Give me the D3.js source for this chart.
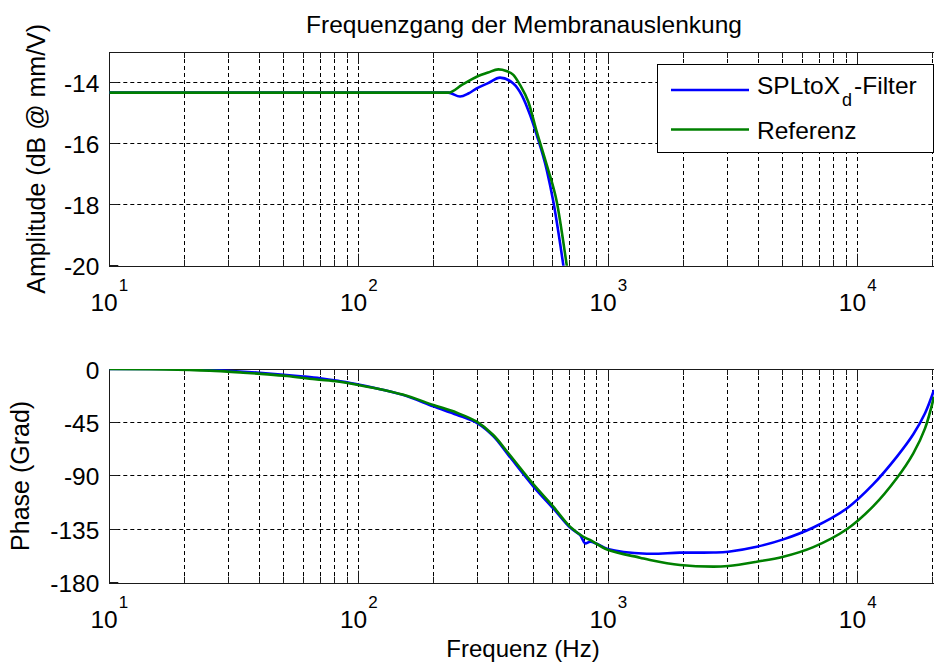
<!DOCTYPE html>
<html>
<head>
<meta charset="utf-8">
<script src="https://cdn.jsdelivr.net/npm/d3@7"></script>
<style>
  html, body { margin: 0; padding: 0; background: #ffffff; }
  svg { display: block; font-family: "Liberation Sans", Arial, Helvetica, sans-serif; }
</style>
</head>
<body>
<svg id="chart" width="934" height="663"></svg>
<script>
// ---- Amplitude response (dB @ mm/V) ----
const ampFreqFilter = [10, 228.5, 254.6, 275, 296.9, 330, 368.3, 416.4, 450, 485.8, 516.8, 566.7, 602.3, 660.5, 720];
const ampFilter     = [-14.33, -14.33, -14.46, -14.36, -14.19, -14.02, -13.84, -14.03, -14.41, -15.06, -15.72, -16.86, -17.90, -19.98, -22.2];

const ampFreqRef = [10, 228.5, 260, 296.9, 330, 362.5, 390, 416.4, 442.9, 478.2, 516.8, 566.7, 621.5, 681.6, 740];
const ampRef     = [-14.33, -14.33, -14.07, -13.81, -13.67, -13.57, -13.62, -13.75, -14.08, -14.63, -15.61, -16.70, -17.90, -19.98, -22.0];

// ---- Phase response (degrees) ----
const phaseFreqFilter = [10, 17, 23.8, 30, 40, 50, 60, 70, 82.6, 99.6, 150, 199, 247, 297, 346, 398, 500.6, 602.3, 702.5, 770.5, 807, 845.2, 898.8, 994.9, 1426, 1939, 2637, 3029, 3937, 5031, 6637, 9036, 11547, 14334, 16702, 18610, 20220];
const phaseFilter     = [0, 0, -0.5, -1.5, -3.2, -4.8, -6.3, -7.8, -10.0, -13.0, -21.8, -31.5, -38.5, -45.3, -56.5, -72.5, -98.8, -117.5, -133.5, -139.8, -146.8, -145.5, -147.2, -151.6, -155.6, -154.7, -154.6, -153.9, -149.7, -143.5, -133.5, -117.5, -97.0, -74.0, -55.0, -37.3, -17.7];

const phaseFreqRef = [10, 16.7, 25.3, 34.4, 43.2, 51.6, 66.7, 82.6, 99.6, 150, 199, 247, 297, 346, 398, 500.6, 602.3, 702.5, 794.3, 845.2, 994.9, 1341, 1471, 1939, 2637, 3029, 3937, 5031, 6637, 9036, 11547, 14334, 16702, 18610, 20220];
const phaseRef     = [0, -0.3, -1.4, -3.1, -4.5, -5.9, -8.7, -10.6, -13.4, -21.5, -30.3, -36.8, -44.4, -55.6, -71.0, -97.0, -116, -132.8, -141.3, -144, -152.3, -158.9, -160.9, -165.1, -166.5, -165.9, -162.3, -158.1, -150, -135, -115.5, -92, -71, -50, -23.3];

// ---- Axes ----
const freqDomain   = [10, 22050];
const decades      = [10, 100, 1000, 10000];
const decadeExp    = ["1", "2", "3", "4"];
const ampDomain    = [-20, -13];
const ampTicks     = [-20, -18, -16, -14];
const phaseDomain  = [-180, 0];
const phaseTicks   = [0, -45, -90, -135, -180];

// ---- Text ----
const titleText   = "Frequenzgang der Membranauslenkung";
const ampLabel    = "Amplitude (dB @ mm/V)";
const phaseLabel  = "Phase (Grad)";
const xLabel      = "Frequenz (Hz)";
const seriesNames = ["SPLtoX", "d", "-Filter", "Referenz"];
const seriesColors = ["#0000ff", "#008000"];

const svg = d3.select("#chart");
const left = 109.3, right = 943.4;
const x = d3.scaleLog().domain(freqDomain).range([left, right]);
const crisp = v => Math.round(v - 0.5) + 0.5;

// tick / grid frequencies: 1..9 x each decade
const xTickList = [];
decades.forEach(d => {
  for (let k = 1; k <= 9; k++) {
    const f = k * d;
    if (f > freqDomain[0] && f < freqDomain[1]) xTickList.push({ f, major: k === 1 });
  }
});

const FONT = 24.5;

function drawPanel(cfg) {
  const y = d3.scaleLinear().domain(cfg.yDomain).range([cfg.bottom, cfg.top]);
  const g = svg.append("g");

  svg.append("defs").append("clipPath").attr("id", cfg.id + "-clip")
    .append("rect")
    .attr("x", left).attr("y", cfg.top)
    .attr("width", right - left).attr("height", cfg.bottom - cfg.top);

  // dashed grid
  const grid = g.append("g").attr("stroke", "#000").attr("stroke-width", 1)
    .attr("stroke-dasharray", "4,3");
  grid.selectAll("line.v").data(xTickList).join("line").attr("class", "v")
    .attr("x1", d => crisp(x(d.f))).attr("x2", d => crisp(x(d.f)))
    .attr("y1", cfg.top).attr("y2", cfg.bottom);
  grid.selectAll("line.h")
    .data(cfg.yTicks.filter(t => t !== cfg.yDomain[0] && t !== cfg.yDomain[1]))
    .join("line").attr("class", "h")
    .attr("x1", left).attr("x2", right)
    .attr("y1", d => crisp(y(d))).attr("y2", d => crisp(y(d)));

  // axes box
  g.append("rect")
    .attr("x", crisp(left)).attr("y", crisp(cfg.top))
    .attr("width", Math.round(right - left)).attr("height", Math.round(cfg.bottom - cfg.top))
    .attr("fill", "none").attr("stroke", "#1a1a1a").attr("stroke-width", 1);

  // inward ticks
  const ticks = g.append("g").attr("stroke", "#1a1a1a").attr("stroke-width", 1);
  xTickList.forEach(d => {
    const len = d.major ? 12 : 6;
    const xx = crisp(x(d.f));
    ticks.append("line").attr("x1", xx).attr("x2", xx)
      .attr("y1", cfg.bottom).attr("y2", cfg.bottom - len);
    ticks.append("line").attr("x1", xx).attr("x2", xx)
      .attr("y1", cfg.top).attr("y2", cfg.top + len);
  });
  cfg.yTicks.forEach(t => {
    const yy = crisp(y(t));
    ticks.append("line").attr("x1", left).attr("x2", left + 9).attr("y1", yy).attr("y2", yy);
    ticks.append("line").attr("x1", right).attr("x2", right - 9).attr("y1", yy).attr("y2", yy);
  });

  // y tick labels
  g.append("g").selectAll("text").data(cfg.yTicks).join("text")
    .attr("x", left - 10).attr("y", d => y(d) + 9.5)
    .attr("text-anchor", "end").attr("font-size", FONT).attr("fill", "#000")
    .text(d => d);

  // x tick labels: 10^n
  const xl = g.append("g").selectAll("text").data(decades).join("text")
    .attr("x", d => x(d)).attr("y", cfg.bottom + 45)
    .attr("text-anchor", "middle").attr("font-size", FONT).attr("fill", "#000");
  xl.append("tspan").text("10");
  xl.append("tspan").attr("dy", -20).attr("dx", 1).attr("font-size", 17)
    .text((d, i) => decadeExp[i]);

  // y axis label
  g.append("text")
    .attr("transform", `translate(${cfg.labelX},${(cfg.top + cfg.bottom) / 2}) rotate(-90)`)
    .attr("text-anchor", "middle").attr("font-size", 25).attr("fill", "#000")
    .text(cfg.label);

  // data lines
  const line = d3.line().x(d => x(d[0])).y(d => y(d[1])).curve(cfg.curve);
  const lines = g.append("g").attr("clip-path", `url(#${cfg.id}-clip)`);
  cfg.series.forEach((s, i) => {
    lines.append("path")
      .datum(s.f.map((f, j) => [f, s.v[j]]))
      .attr("d", line)
      .attr("fill", "none")
      .attr("stroke", seriesColors[i])
      .attr("stroke-width", 2.6)
      .attr("stroke-linejoin", "round");
  });
  return { y, g };
}

drawPanel({
  id: "amp", top: 52, bottom: 265.7, yDomain: ampDomain, yTicks: ampTicks,
  label: ampLabel, labelX: 45, curve: d3.curveMonotoneX,
  series: [{ f: ampFreqFilter, v: ampFilter }, { f: ampFreqRef, v: ampRef }]
});

drawPanel({
  id: "phase", top: 369, bottom: 582.7, yDomain: phaseDomain, yTicks: phaseTicks,
  label: phaseLabel, labelX: 29, curve: d3.curveCatmullRom.alpha(0.5),
  series: [{ f: phaseFreqFilter, v: phaseFilter }, { f: phaseFreqRef, v: phaseRef }]
});

// title and x label
svg.append("text").attr("x", 524).attr("y", 33).attr("text-anchor", "middle")
  .attr("font-size", 24.5).attr("fill", "#000").text(titleText);
svg.append("text").attr("x", 523).attr("y", 657).attr("text-anchor", "middle")
  .attr("font-size", 24).attr("fill", "#000").text(xLabel);

// legend
const lg = svg.append("g");
const lgX = 657, lgY = 64, lgW = right - 10 - 657, lgH = 88;
lg.append("rect").attr("x", crisp(lgX)).attr("y", crisp(lgY))
  .attr("width", Math.round(lgW)).attr("height", lgH)
  .attr("fill", "#fff").attr("stroke", "#000").attr("stroke-width", 1);
const rowsY = [90, 129.5];
rowsY.forEach((ry, i) => {
  lg.append("line").attr("x1", 671).attr("x2", 749).attr("y1", ry).attr("y2", ry)
    .attr("stroke", seriesColors[i]).attr("stroke-width", 2.6);
});
const t1 = lg.append("text").attr("x", 757).attr("y", 93.5).attr("font-size", 24.5).attr("fill", "#000");
t1.append("tspan").text(seriesNames[0]);
t1.append("tspan").attr("dy", 12).attr("dx", 2).attr("font-size", 18).text(seriesNames[1]);
t1.append("tspan").attr("dy", -12).attr("dx", 2).text(seriesNames[2]);
lg.append("text").attr("x", 757).attr("y", 138.5).attr("font-size", 24.5).attr("fill", "#000")
  .text(seriesNames[3]);
</script>
</body>
</html>
